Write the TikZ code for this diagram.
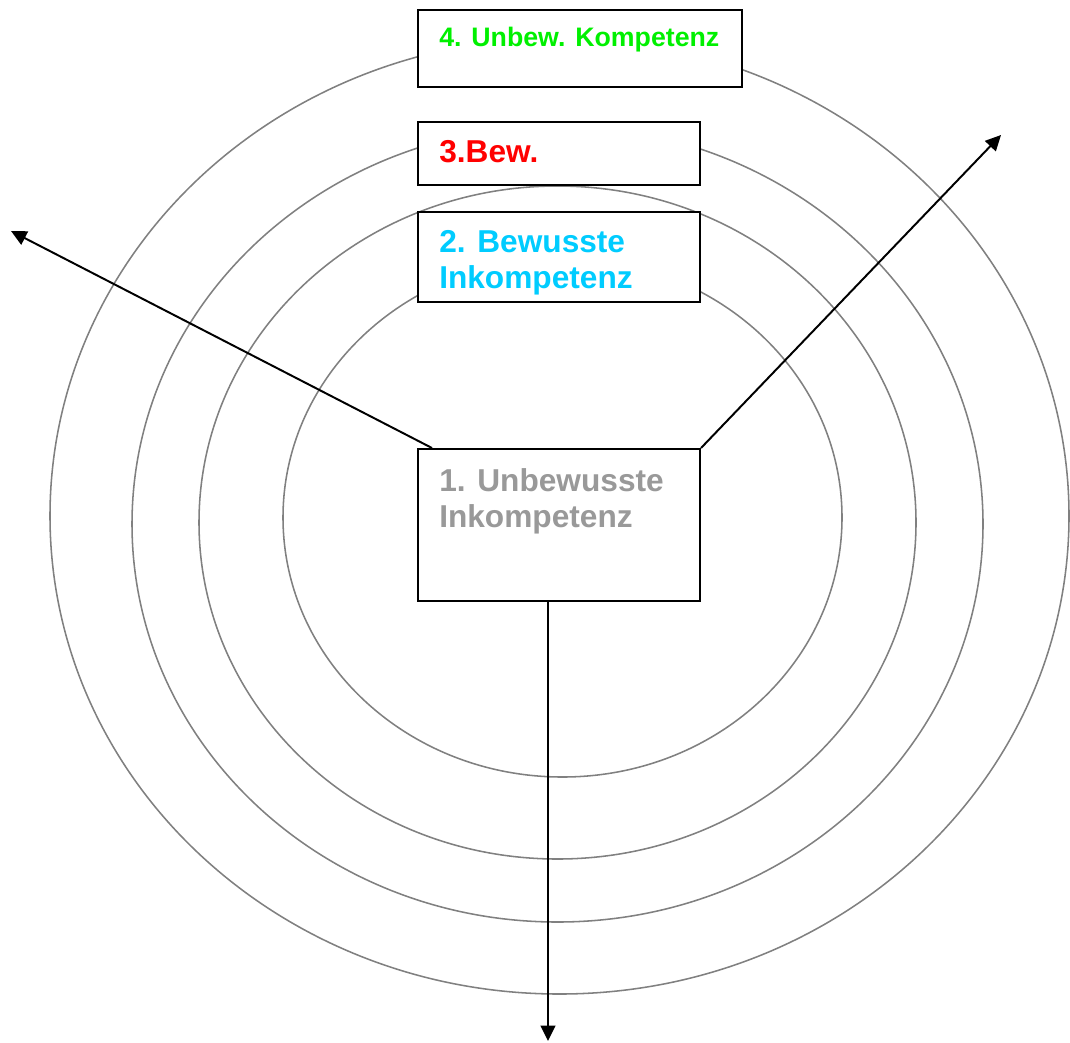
\documentclass[tikz,border=0pt]{standalone}
\usepackage{fontspec}
\setmainfont{Liberation Sans}
\usetikzlibrary{arrows.meta, positioning}
\definecolor{RingGrey}{RGB}{128, 128, 128}
\definecolor{StageGrey}{RGB}{153, 153, 153}
\definecolor{StageCyan}{RGB}{0, 204, 255}
\definecolor{StageRed}{RGB}{255, 0, 0}
\definecolor{StageGreen}{RGB}{0, 240, 0}

\begin{document}
\begin{tikzpicture}[
    % Units: one step is one pixel of the sketch
    x=0.025cm, y=-0.025cm,
    % --- STYLES ---
    % Rings: thin grey ellipses
    ring/.style={
        draw=RingGrey,
        line width=1.1pt
    },
    % Stage boxes: white fill hides the rings
    stage/.style={
        draw=black,
        line width=1.4pt,
        fill=white,
        minimum width=7.05cm,
        inner sep=0pt
    },
    % Stage texts: bold sans, top left corner of the box
    stagetext/.style={
        inner sep=0pt,
        align=left,
        font=\fontsize{22.5}{25.6}\selectfont\bfseries
    },
    % Arrows: black with filled tip
    arrow/.style={
        line width=1.4pt,
        -{Triangle[length=11pt, width=10.5pt]}
    }
]

\useasboundingbox (0,0) rectangle (1070,1042);

% --- RINGS ---
\draw [ring] (562.5,517.5) ellipse [x radius=279.5, y radius=259.5];
\draw [ring] (557.5,522.5) ellipse [x radius=358.5, y radius=336.5];
\draw [ring] (557.5,524) ellipse [x radius=425.5, y radius=398];
\draw [ring] (559.5,516) ellipse [x radius=509.5, y radius=478];

% --- STAGE BOXES ---
\node (unbewinkomp) [stage, minimum height=3.8cm] at (559,525) {};
\node (bewinkomp) [stage, minimum height=2.25cm] at (559,257) {};
\node (bew) [stage, minimum height=1.575cm] at (559,153.5) {};
\node (unbewkomp) [stage, minimum width=8.1cm, minimum height=1.925cm] at (580,48.5) {};

\node (t1) [stagetext, text=StageGrey, below right=0.5cm and 0.55cm of unbewinkomp.north west] {1. Unbewusste\\Inkompetenz};
\node (t2) [stagetext, text=StageCyan, below right=0.49cm and 0.55cm of bewinkomp.north west] {2. Bewusste\\Inkompetenz};
\node (t3) [stagetext, text=StageRed, below right=0.49cm and 0.55cm of bew.north west] {3.Bew.};
\node (t4) [stagetext, text=StageGreen, font=\fontsize{19}{22}\selectfont\bfseries, below right=0.45cm and 0.55cm of unbewkomp.north west] {4. Unbew. Kompetenz};

% --- ARROWS ---
\coordinate (leftend) at (11,231);
\coordinate (rightend) at (1001,135);
\coordinate (downend) at (548,1041);

\draw [arrow] ([xshift=0.375cm]unbewinkomp.north west) -- (leftend);
\draw [arrow] (unbewinkomp.north east) -- (rightend);
\draw [arrow] ([xshift=-0.275cm]unbewinkomp.south) -- (downend);

\end{tikzpicture}
\end{document}
